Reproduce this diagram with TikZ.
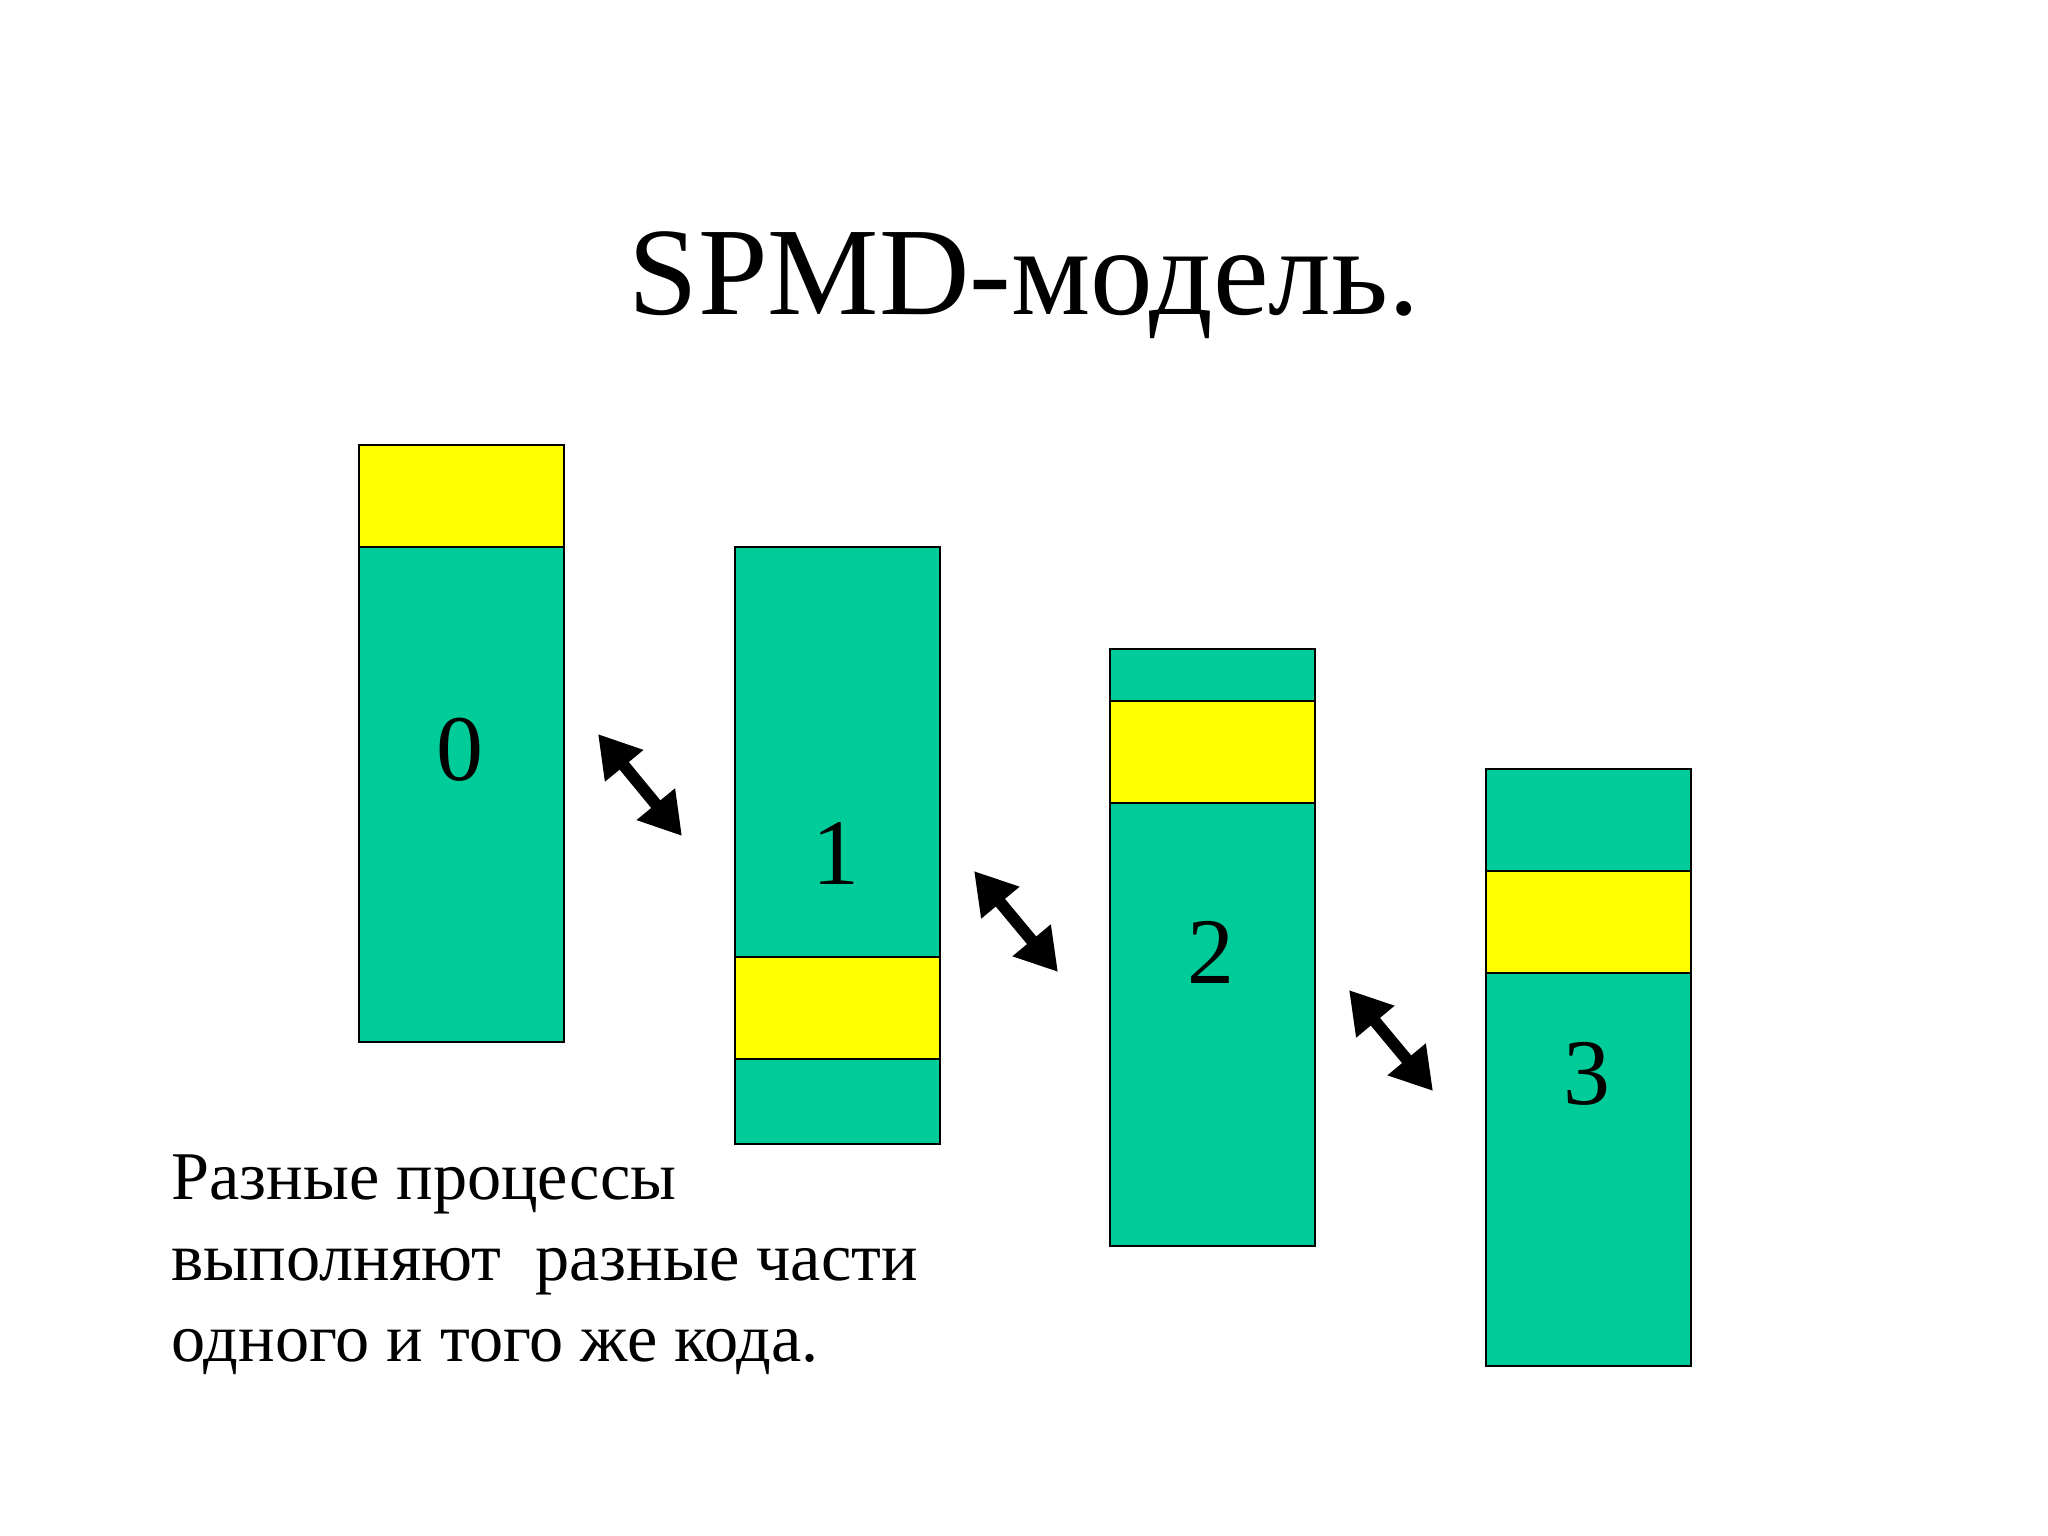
\documentclass[tikz,border=0pt]{standalone}
\usepackage{fontspec}
\setmainfont{Liberation Serif}
\usetikzlibrary{arrows.meta}
\definecolor{procgreen}{RGB}{0,204,153}
\definecolor{codeyellow}{RGB}{255,255,0}
\begin{document}
\begin{tikzpicture}[x=0.3515625pt,y=-0.3515625pt,
  procbox/.style={draw=black,line width=0.8pt,fill=procgreen,anchor=north west,inner sep=0pt,minimum width=205*0.3515625pt,minimum height=597*0.3515625pt},
  codebox/.style={draw=black,line width=0.8pt,fill=codeyellow,anchor=north west,inner sep=0pt,minimum width=205*0.3515625pt,minimum height=102*0.3515625pt},
  numlabel/.style={anchor=base,font=\fontsize{33}{38}\selectfont,inner sep=0pt},
  msgarrow/.style={line width=4.2pt,{Triangle[length=14.5pt,width=16.5pt]}-{Triangle[length=14.5pt,width=16.5pt]}},
  bodytext/.style={anchor=base west,inner sep=0pt,font=\fontsize{24}{28.8}\selectfont}]
\useasboundingbox (0,0) rectangle (2048,1536);
\node[anchor=base,font=\fontsize{44}{52}\selectfont,inner sep=0pt] (title) at (1024,315) {SPMD-модель.};
% processes
\node[procbox] (p0) at (358,444) {};
\node[codebox] (c0) at (358,444) {};
\node[procbox] (p1) at (734,546) {};
\node[codebox] (c1) at (734,956) {};
\node[procbox] (p2) at (1109,648) {};
\node[codebox] (c2) at (1109,700) {};
\node[procbox] (p3) at (1485,768) {};
\node[codebox] (c3) at (1485,870) {};
\node[numlabel] (n0) at (460,780) {0};
\node[numlabel] (n1) at (836,884) {1};
\node[numlabel] (n2) at (1211,983) {2};
\node[numlabel] (n3) at (1587,1104) {3};
% arrows
\coordinate (a1s) at (598,734); \coordinate (a1e) at (682,836);
\coordinate (a2s) at (974,871); \coordinate (a2e) at (1058,972);
\coordinate (a3s) at (1349,990); \coordinate (a3e) at (1433,1091);
\draw[msgarrow] (a1s) -- (a1e);
\draw[msgarrow] (a2s) -- (a2e);
\draw[msgarrow] (a3s) -- (a3e);
% text
\node[bodytext] (t1) at (171,1199) {Разные процессы};
\node[bodytext] (t2) at (171,1280) {выполняют\ \ разные части};
\node[bodytext] (t3) at (171,1361) {одного и того же кода.};
\end{tikzpicture}
\end{document}
